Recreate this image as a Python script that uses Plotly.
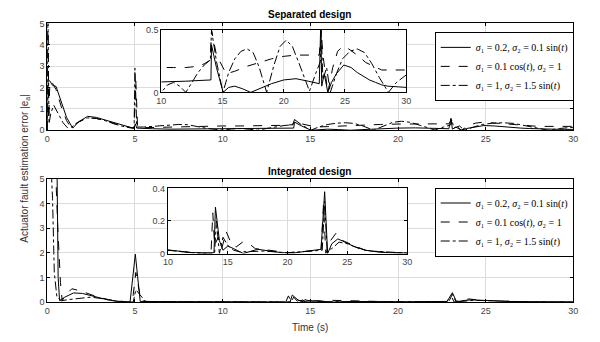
import plotly.graph_objects as go

# ---------------- data ----------------
# Separated design
sep_s_t = [0, 0.05, 0.15, 0.3, 0.5, 0.8, 1.1, 1.45, 1.8, 2.3, 2.8, 3.3, 3.8, 4.3, 4.8, 4.95, 5.02, 5.1, 5.5, 6, 7, 8, 9,
           10, 11, 12, 13, 14.05, 14.1, 14.5, 15.05, 15.5, 16.0, 16.6, 17.3, 18, 19, 20, 21, 22, 22.9, 23.02, 23.1,
           23.3, 23.6, 23.9, 24.3, 24.9, 25.5, 26, 26.5, 27, 27.5, 28, 28.5, 29, 29.5, 30]
sep_s_v = [0, 2.35, 2.3, 2.1, 2.05, 1.3, 0.6, 0.1, 0.4, 0.65, 0.6, 0.48, 0.35, 0.24, 0.12, 0.1, 0.3, 0.1, 0.08, 0.07, 0.05,
           0.06, 0.08, 0.084, 0.085, 0.09, 0.095, 0.1, 0.38, 0.2, 0.0, 0.04, 0.05, 0.03, 0.0, 0.03, 0.07, 0.1, 0.11,
           0.09, 0.07, 0.56, 0.05, 0.15, 0.0, 0.08, 0.15, 0.22, 0.2, 0.16, 0.13, 0.1, 0.08, 0.06, 0.05, 0.045, 0.04, 0.04]

sep_d_t = [0, 0.03, 0.08, 0.15, 0.3, 0.5, 0.8, 1.1, 1.35, 1.7, 2.3, 2.8, 3.3, 3.8, 4.3, 4.8, 4.95, 5.05, 5.15, 5.5, 6,
           7, 8, 9, 10, 11, 12, 13, 13.5, 14.0, 14.1, 14.5, 15.3, 16, 17, 18, 19, 20, 21, 22, 22.9, 23.05, 23.2,
           23.6, 24.0, 24.4, 24.8, 25.3, 26, 26.7, 27.5, 28, 29, 30]
sep_d_v = [0, 5.6, 0.5, 2.3, 2.2, 1.9, 1.1, 0.45, 0.12, 0.35, 0.58, 0.55, 0.45, 0.32, 0.2, 0.12, 0.12, 2.3, 0.15, 0.12,
           0.13, 0.16, 0.18, 0.19, 0.2, 0.2, 0.2, 0.21, 0.23, 0.26, 0.5, 0.3, 0.15, 0.17, 0.21, 0.24, 0.27, 0.29, 0.3,
           0.3, 0.3, 0.5, 0.3, 0.0, 0.2, 0.33, 0.37, 0.35, 0.3, 0.24, 0.2, 0.18, 0.18, 0.18]

sep_dd_t = [0, 0.03, 0.1, 0.2, 0.37, 0.6, 0.9, 1.15, 1.4, 1.8, 2.3, 2.8, 3.3, 3.8, 4.3, 4.8, 4.95, 5.0, 5.1, 5.5, 6.0,
            7.0, 7.5, 8, 9, 10, 10.5, 11, 11.5, 12, 12.5, 13, 13.5, 14.0, 14.1, 14.5, 15.03, 15.5, 16.0, 16.5, 17.0,
            17.5, 18.0, 18.6, 19.2, 19.7, 20.2, 20.7, 21.3, 22.1, 22.6, 23.0, 23.05, 23.2, 23.5, 23.8, 24.3, 24.8,
            25.4, 26.0, 26.6, 27.2, 27.8, 28.55, 29.2, 30]
sep_dd_v = [0, 5.6, 0.3, 0.8, 1.17, 0.8, 0.35, 0.12, 0.15, 0.4, 0.58, 0.55, 0.45, 0.3, 0.18, 0.1, 0.1, 2.9, 0.15, 0.15,
            0.17, 0.24, 0.27, 0.26, 0.1, 0.0, 0.06, 0.08, 0.05, 0.0, 0.08, 0.16, 0.22, 0.26, 0.5, 0.25, 0.0, 0.16,
            0.27, 0.33, 0.35, 0.32, 0.2, 0.0, 0.22, 0.37, 0.42, 0.37, 0.22, 0.01, 0.15, 0.25, 0.5, 0.1, 0.2, 0.0,
            0.15, 0.27, 0.33, 0.35, 0.32, 0.23, 0.12, 0.0, 0.08, 0.14]

# Integrated design
int_s_t = [0, 0.55, 0.62, 0.7, 1.0, 1.5, 2.0, 2.5, 3.0, 3.5, 4.0, 4.5, 4.72, 5.02, 5.3, 5.8, 7, 8, 9, 10, 11, 12, 13,
           13.85, 13.97, 14.3, 14.6, 15.0, 15.5, 16.3, 17.5, 18.5, 19.5, 20.5, 21.5, 22.8, 23.1, 23.35, 23.7, 24.2,
           24.8, 25.5, 26.5, 27.5, 28.5, 30]
int_s_v = [5.8, 5.8, 1.0, 0.06, 0.2, 0.37, 0.35, 0.25, 0.15, 0.08, 0.03, 0.01, 0.0, 1.94, 0.02, 0.02, 0.02, 0.02, 0.025,
           0.022, 0.015, 0.006, 0.004, 0.005, 0.285, 0.08, 0.02, 0.046, 0.03, 0.0, 0.026, 0.015, 0.005, 0.003, 0.015,
           0.026, 0.38, 0.0, 0.06, 0.09, 0.07, 0.045, 0.02, 0.01, 0.005, 0.003]

int_d_t = [0, 0.45, 0.6, 0.75, 0.85, 1.0, 1.4, 1.9, 2.5, 3.0, 3.5, 4.0, 4.5, 4.85, 5.05, 5.35, 6, 8, 10, 12, 13.6,
           13.75, 13.9, 14.2, 14.5, 14.87, 15.3, 15.7, 16.24, 16.8, 17.3, 18.5, 20, 22.8, 23.0, 23.2, 23.6, 24.05,
           24.6, 25.5, 26.5, 28, 30]
int_d_v = [5.8, 5.8, 3.0, 0.8, 0.05, 0.25, 0.54, 0.45, 0.3, 0.18, 0.1, 0.04, 0.01, 0.0, 1.2, 0.05, 0.01, 0.01, 0.02,
           0.005, 0.0, 0.25, 0.05, 0.1, 0.03, 0.135, 0.06, 0.04, 0.07, 0.06, 0.03, 0.02, 0.005, 0.02, 0.3, 0.0, 0.08,
           0.125, 0.08, 0.05, 0.02, 0.008, 0.003]

int_dd_t = [0, 0.2, 0.3, 0.4, 0.55, 0.8, 1.2, 1.8, 2.5, 3.0, 3.5, 4.0, 4.6, 4.9, 5.05, 5.3, 5.6, 7, 10, 12, 13.9, 14.05,
            14.3, 14.6, 15, 15.5, 16, 18, 20, 22.9, 23.1, 23.3, 23.7, 24.3, 25, 26, 27, 30]
int_dd_v = [5.8, 5.8, 4.2, 1.2, 0.2, 0.05, 0.1, 0.15, 0.2, 0.15, 0.08, 0.03, 0.01, 0.0, 0.5, 0.3, 0.02, 0.01, 0.02,
            0.005, 0.0, 0.2, 0.0, 0.1, 0.05, 0.02, 0.01, 0.015, 0.005, 0.02, 0.32, 0.02, 0.03, 0.07, 0.06, 0.03, 0.015,
            0.003]

names = ["<i>σ</i>₁ = 0.2, <i>σ</i>₂ = 0.1 sin(<i>t</i>)",
         "<i>σ</i>₁ = 0.1 cos(<i>t</i>), <i>σ</i>₂ = 1",
         "<i>σ</i>₁ = 1, <i>σ</i>₂ = 1.5 sin(<i>t</i>)"]
dashes = ["solid", "dash", "dashdot"]

main_xticks = [0, 5, 10, 15, 20, 25, 30]
main_yticks = [0, 1, 2, 3, 4, 5]
inset_xticks = [10, 15, 20, 25, 30]
sep_inset_yticks = [0, 0.5]
int_inset_yticks = [0, 0.2, 0.4]

# ---------------- figure ----------------
fig = go.Figure()
sep = [(sep_s_t, sep_s_v), (sep_d_t, sep_d_v), (sep_dd_t, sep_dd_v)]
integ = [(int_s_t, int_s_v), (int_d_t, int_d_v), (int_dd_t, int_dd_v)]

for i, (t, v) in enumerate(sep):
    fig.add_trace(go.Scatter(x=t, y=v, mode="lines", name=names[i], legend="legend",
                             line=dict(color="black", width=1, dash=dashes[i]), xaxis="x", yaxis="y"))
for i, (t, v) in enumerate(integ):
    fig.add_trace(go.Scatter(x=t, y=v, mode="lines", name=names[i], legend="legend2",
                             line=dict(color="black", width=1, dash=dashes[i]), xaxis="x2", yaxis="y2"))
for i, (t, v) in enumerate(sep):
    fig.add_trace(go.Scatter(x=t, y=v, mode="lines", showlegend=False,
                             line=dict(color="black", width=1, dash=dashes[i]), xaxis="x3", yaxis="y3"))
for i, (t, v) in enumerate(integ):
    fig.add_trace(go.Scatter(x=t, y=v, mode="lines", showlegend=False,
                             line=dict(color="black", width=1, dash=dashes[i]), xaxis="x4", yaxis="y4"))

W, H = 600, 342
def fx(px): return px / W
def fy(py): return 1 - py / H

tickfont = dict(family="Liberation Sans, Arial, sans-serif", size=9, color="#444")
grid = "#dcdcdc"
common = dict(showline=True, linecolor="black", linewidth=1, mirror="ticks", ticks="inside", ticklen=3,
              tickcolor="black", showgrid=True, gridcolor=grid, gridwidth=1, zeroline=False, tickfont=tickfont)

legfont = dict(family="Liberation Serif, Times New Roman, serif", size=10, color="black")
fig.update_layout(
    width=W, height=H, margin=dict(l=0, r=0, t=0, b=0),
    paper_bgcolor="white", plot_bgcolor="white",
    xaxis=dict(domain=[fx(43), fx(578)], range=[0, 30], tickvals=main_xticks, anchor="y", **common),
    yaxis=dict(domain=[fy(129), fy(19)], range=[0, 5], tickvals=main_yticks, anchor="x", **common),
    xaxis2=dict(domain=[fx(43), fx(578)], range=[0, 30], tickvals=main_xticks, anchor="y2", **common),
    yaxis2=dict(domain=[fy(306), fy(179)], range=[0, 5], tickvals=main_yticks, anchor="x2", **common),
    xaxis3=dict(domain=[fx(159), fx(408)], range=[10, 30], tickvals=inset_xticks, anchor="y3", **common),
    yaxis3=dict(domain=[fy(90), fy(26)], range=[0, 0.5], tickvals=sep_inset_yticks, anchor="x3", **common),
    xaxis4=dict(domain=[fx(165.7), fx(409)], range=[10, 30], tickvals=inset_xticks, anchor="y4", **common),
    yaxis4=dict(domain=[fy(256), fy(189)], range=[0, 0.4], tickvals=int_inset_yticks, anchor="x4", **common),
    legend=dict(x=fx(437), y=fy(27.7), xanchor="left", yanchor="top", bgcolor="white", bordercolor="black",
                borderwidth=1, font=legfont, itemwidth=30, tracegroupgap=0),
    legend2=dict(x=fx(437), y=fy(188), xanchor="left", yanchor="top", bgcolor="white", bordercolor="black",
                 borderwidth=1, font=legfont, itemwidth=30, tracegroupgap=0),
    showlegend=True,
)

# white backgrounds for insets (drawn in the inset's own subplot layer, below its grid)
fig.add_shape(type="rect", xref="x3", yref="y3", x0=10, x1=30, y0=0, y1=0.5, layer="below",
              fillcolor="white", line=dict(width=0))
fig.add_shape(type="rect", xref="x4", yref="y4", x0=10, x1=30, y0=0, y1=0.4, layer="below",
              fillcolor="white", line=dict(width=0))

titlefont = dict(family="Liberation Sans, Arial, sans-serif", size=10, color="black")
lblfont = dict(family="Liberation Sans, Arial, sans-serif", size=10, color="#333")
fig.add_annotation(text="<b>Separated design</b>", x=fx(310), y=fy(10), xref="paper", yref="paper",
                   xanchor="center", yanchor="middle", showarrow=False, font=titlefont)
fig.add_annotation(text="<b>Integrated design</b>", x=fx(310), y=fy(171), xref="paper", yref="paper",
                   xanchor="center", yanchor="middle", showarrow=False, font=titlefont)
fig.add_annotation(text="Time (s)", x=fx(310), y=fy(332), xref="paper", yref="paper",
                   xanchor="center", yanchor="middle", showarrow=False, font=lblfont)
fig.add_annotation(text="Actuator fault estimation error |e<sub>a</sub>|", x=fx(20), y=fy(168), xref="paper",
                   yref="paper", xanchor="center", yanchor="middle", showarrow=False, textangle=-90, font=lblfont)

fig.write_html("out.html")
